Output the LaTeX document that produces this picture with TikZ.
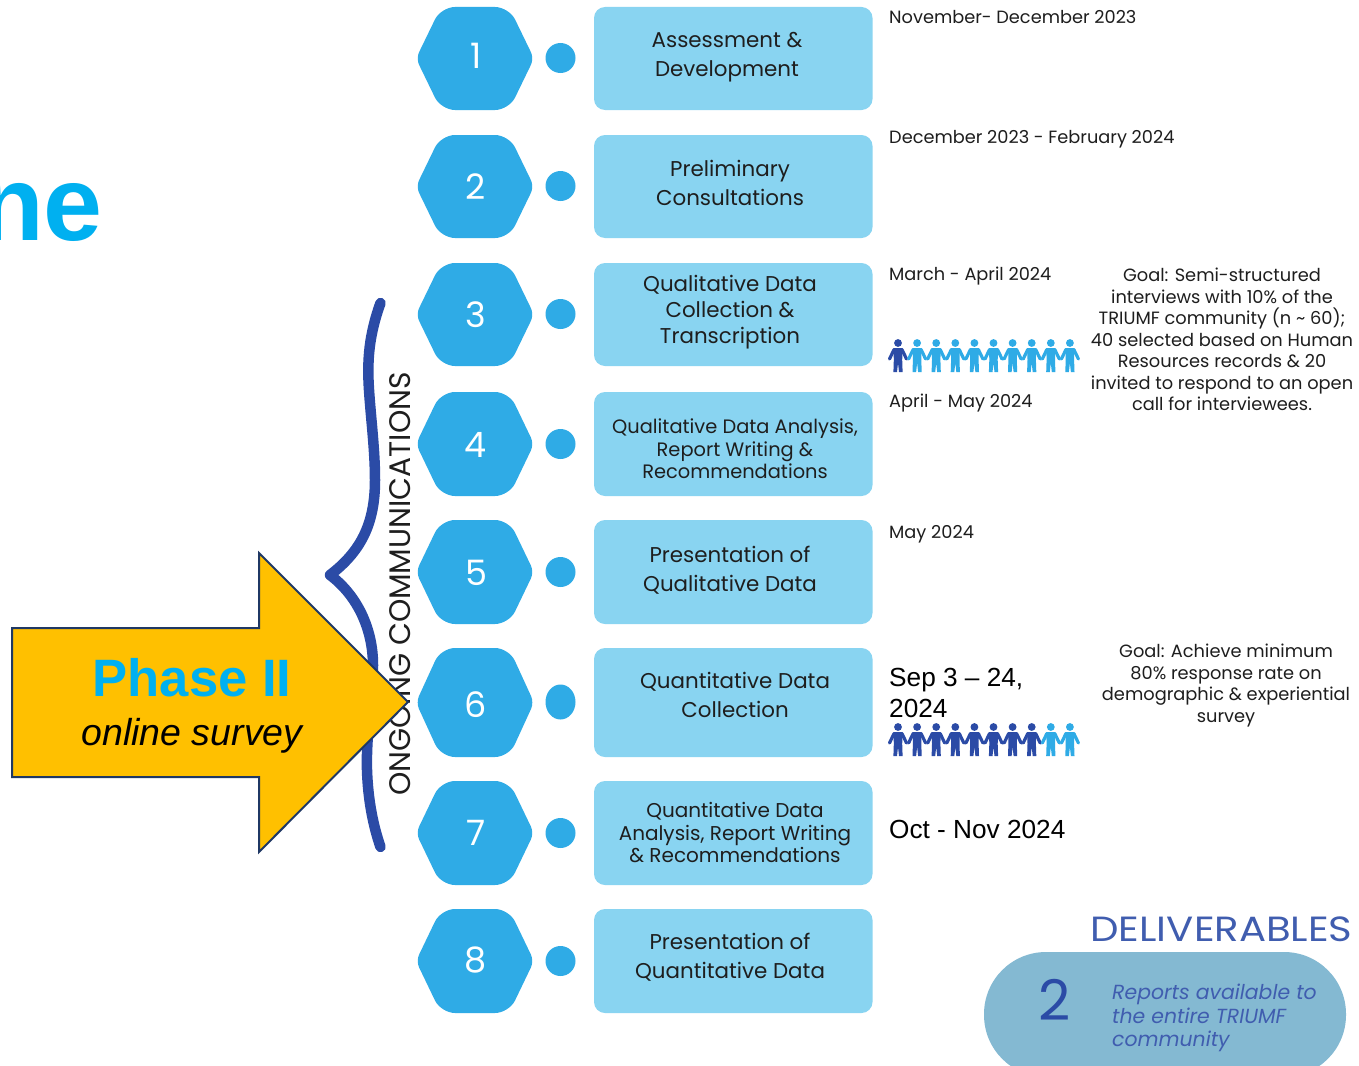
\documentclass[tikz,border=0pt]{standalone}
\usepackage{fontspec}
\usetikzlibrary{shapes.geometric}
\setmainfont{Poppins}
\newfontfamily\arialf{Liberation Sans}
\newfontfamily\widef[FakeStretch=1.15]{Poppins}
\definecolor{hexc}{HTML}{2FABE6}
\definecolor{boxc}{HTML}{89D4F1}
\definecolor{navyc}{HTML}{2B4BA6}
\definecolor{pillc}{HTML}{84B9D2}
\definecolor{arrowc}{HTML}{FFC000}
\definecolor{edgec}{HTML}{1F3864}
\definecolor{titlec}{HTML}{00B0F0}
\definecolor{inkc}{HTML}{1E1E1E}
\newcommand\fs[2]{\fontsize{#1}{#2}\selectfont}
\tikzset{
  x=1pt,y=-1pt,
  hexnum/.style={text=white,font=\fs{35}{35}},
  dotc/.style={fill=hexc,draw=none,ellipse,inner sep=0pt},
  boxtext/.style={text=inkc,align=center,inner sep=0pt,font=\fs{21.4}{29}},
  tighttext/.style={text=inkc,align=center,inner sep=0pt,font=\fs{21.4}{26}},
  smalltext/.style={text=inkc,align=center,inner sep=0pt,font=\fs{19.4}{22.5}},
  smalltextb/.style={text=inkc,align=center,inner sep=0pt,font=\fs{20}{22.5}},
  datetext/.style={text=inkc,anchor=west,inner sep=0pt,font=\fs{17.75}{20}},
  goaltext/.style={text=inkc,align=center,inner sep=0pt,font=\fs{17.8}{21.5}},
  bigdate/.style={text=black,anchor=west,align=left,inner sep=0pt,font=\arialf\fs{26.2}{31}},
}
\newcommand\hexa[5]{% name, top, bottom, label, label y
  \fill[hexc,rounded corners=7pt] (416,{(#2+#3)/2}) [rounded corners=14pt] -- (441,#2) -- (509,#2) [rounded corners=7pt] -- (534,{(#2+#3)/2}) [rounded corners=14pt] -- (509,#3) -- (441,#3) [rounded corners=7pt] -- cycle;
  \node[hexnum] (#1) at (476,#5) {#4};
}
\newcommand\stepb[3]{% name, top, bottom
  \fill[boxc,rounded corners=11pt] (594,#2) rectangle (872.5,#3);
  \coordinate (#1) at (733,{(#2+#3)/2});
}
\newcommand\person[3]{%
  \begin{scope}[shift={(#1,#2)}]
    \fill[#3] (0,0) circle (3.9);
    \fill[#3] (-4.5,5) -- (4.5,5) -- (4.2,17) -- (4.6,29) -- (1,29) -- (0,20) -- (-1,29) -- (-4.6,29) -- (-4.2,17) -- cycle;
    \draw[#3,line width=3.2pt,line cap=round,line join=round] (-8.5,16) -- (-4,6.6) -- (4,6.6) -- (8.5,16);
  \end{scope}}
\begin{document}
\begin{tikzpicture}
\clip (0,0) rectangle (1359,1065);
\fill[white] (0,0) rectangle (1359,1065);

% title fragment
\node[anchor=base east,inner sep=0pt,text=titlec,font=\arialf\bfseries\fs{106}{106}] (title) at (103,240) {ne};

% steps
\hexa{h1}{7}{110}{1}{56}
\hexa{h2}{135}{238}{2}{187}
\hexa{h3}{263}{366}{3}{315}
\hexa{h4}{392}{496}{4}{444.5}
\hexa{h5}{520}{624}{5}{572.5}
\hexa{h6}{648}{757}{6}{705}
\hexa{h7}{781}{885}{7}{833}
\hexa{h8}{909}{1013}{8}{960}

\node[dotc,minimum width=30pt,minimum height=30pt] (d1) at (560.5,58) {};
\node[dotc,minimum width=30pt,minimum height=30pt] (d2) at (560.5,186) {};
\node[dotc,minimum width=30pt,minimum height=30pt] (d3) at (560.5,314) {};
\node[dotc,minimum width=30pt,minimum height=30pt] (d4) at (560.5,444) {};
\node[dotc,minimum width=30pt,minimum height=30pt] (d5) at (560.5,572) {};
\node[dotc,minimum width=30pt,minimum height=35pt] (d6) at (560.5,702) {};
\node[dotc,minimum width=30pt,minimum height=30pt] (d7) at (560.5,833) {};
\node[dotc,minimum width=30pt,minimum height=30pt] (d8) at (560.5,961) {};

\stepb{b1}{7}{110}
\stepb{b2}{135}{238}
\stepb{b3}{263}{366}
\stepb{b4}{392}{496}
\stepb{b5}{520}{624}
\stepb{b6}{648}{757}
\stepb{b7}{781}{885}
\stepb{b8}{909}{1013}

\node[boxtext] (t1) at (727,57) {Assessment \&\\Development};
\node[boxtext] (t2) at (730,183) {Preliminary\\Consultations};
\node[tighttext] (t3) at (730,312) {Qualitative Data\\Collection \&\\Transcription};
\node[smalltext] (t4) at (735,449) {Qualitative Data Analysis,\\Report Writing \&\\Recommendations};
\node[boxtext] (t5) at (730,570) {Presentation of\\Qualitative Data};
\node[boxtext] (t6) at (735,695) {Quantitative Data\\Collection};
\node[smalltextb] (t7) at (735,832.5) {Quantitative Data\\Analysis, Report Writing\\\& Recommendations};
\node[boxtext] (t8) at (730,957) {Presentation of\\Quantitative Data};

% dates
\node[datetext] (w1) at (889,17) {November- December 2023};
\node[datetext] (w2) at (889,139) {December 2023 - February 2024};
\node[datetext] (w3) at (889,276) {March - April 2024};
\node[datetext] (w4) at (889,403) {April - May 2024};
\node[datetext] (w5) at (889,534) {May 2024};
\node[bigdate] (w6) at (889,693) {Sep 3 – 24,\\2024};
\node[bigdate] (w7) at (889,829) {Oct - Nov 2024};

% goals
\node[goaltext] (g1) at (1222,339.5) {Goal: Semi-structured\\interviews with 10\% of the\\TRIUMF community (n \textasciitilde{} 60);\\40 selected based on Human\\Resources records \& 20\\invited to respond to an open\\call for interviewees.};
\node[goaltext] (g2) at (1226,685.5) {Goal: Achieve minimum\\80\% response rate on\\demographic \& experiential\\survey};

% people
\foreach \i in {0,...,9} {
  \ifnum\i=0 \person{898+19.1*\i}{343}{navyc}\else \person{898+19.1*\i}{343}{hexc}\fi
  \ifnum\i<8 \person{898+19.1*\i}{727}{navyc}\else \person{898+19.1*\i}{727}{hexc}\fi
}

% deliverables
\node[anchor=center,inner sep=0pt,text=navyc!90,font=\widef\fs{35}{35}] (del) at (1221.5,929) {DELIVERABLES};
\fill[pillc,rounded corners=62pt] (984,952) rectangle (1346,1077);
\node[inner sep=0pt,text=navyc,font=\fs{56}{56}] (two) at (1055,1000) {2};
\node[anchor=west,align=left,inner sep=0pt,text=navyc!90,font=\itshape\fs{20.4}{23.5}] (rep) at (1112,1018) {Reports available to\\the entire TRIUMF\\community};

% brace + side label
\draw[navyc,line width=10.5pt,line cap=round,line join=round]
  (380.5,303) .. controls (369,335) and (367,360) .. (369,390)
  .. controls (371,420) and (375,450) .. (375,480)
  .. controls (375,525) and (360,552) .. (330,575)
  .. controls (358,596) and (373,630) .. (373,665)
  .. controls (373,700) and (366,730) .. (367,770)
  .. controls (368,800) and (373,825) .. (380.5,847);
\node[rotate=90,inner sep=0pt,text=inkc,font=\fs{29.7}{30}] (ong) at (400,584) {ONGOING COMMUNICATIONS};

% phase arrow
\coordinate (atip) at (408,702);
\draw[fill=arrowc,draw=edgec,line width=2pt,line join=miter]
  (12,628) -- (259,628) -- (259,553) -- (atip) -- (259,852) -- (259,777) -- (12,777) -- cycle;
\node[inner sep=0pt,text=titlec,font=\arialf\bfseries\fs{52.6}{53}] (ph) at (192,678) {Phase II};
\node[inner sep=0pt,text=black,font=\arialf\itshape\fs{37.5}{38}] (os) at (192,736) {online survey};
\end{tikzpicture}
\end{document}
